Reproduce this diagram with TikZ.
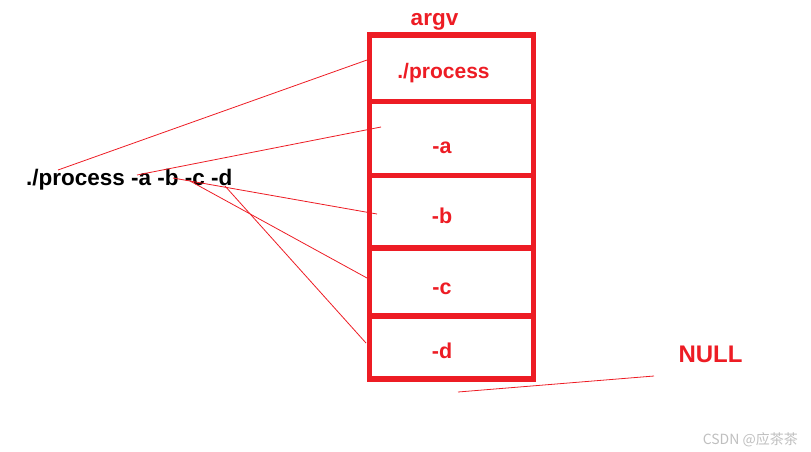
\documentclass[tikz,border=0pt]{standalone}
\usepackage{fontspec}
\setmainfont{Liberation Sans}
\newfontfamily\cjkfont{Noto Sans CJK SC}
\usetikzlibrary{positioning}
\definecolor{paintred}{RGB}{237,28,36}
\begin{document}
\begin{tikzpicture}[x=1pt, y=-1pt,
    slot/.style={draw=paintred, line width=5.5pt, minimum width=164pt, inner sep=0pt, outer sep=0pt},
    redlabel/.style={text=paintred, font=\fontsize{21.5}{25}\selectfont\bfseries, inner sep=0pt, anchor=base},
    pointer/.style={draw=paintred, line width=0.8pt}]
    \useasboundingbox (0,0) rectangle (811,451);

    % argv slots
    \node[slot, minimum height=66.5pt] (slot1) at (451.5,68.25) {};
    \node[slot, minimum height=74pt] (slot2) at (451.5,138.5) {};
    \node[slot, minimum height=72.5pt] (slot3) at (451.5,211.75) {};
    \node[slot, minimum height=68pt] (slot4) at (451.5,282) {};
    \node[slot, minimum height=63pt] (slot5) at (451.5,347.5) {};

    % Labels
    \node[redlabel, font=\fontsize{22.5}{25}\selectfont\bfseries] (argv) at (434.5,25) {argv};
    \node[redlabel, font=\fontsize{21}{25}\selectfont\bfseries] (lab1) at (443.5,78) {./process};
    \node[redlabel] (lab2) at (442,153) {-a};
    \node[redlabel] (lab3) at (442,223) {-b};
    \node[redlabel] (lab4) at (442,294) {-c};
    \node[redlabel] (lab5) at (442,358) {-d};
    \node[redlabel, font=\fontsize{24}{28}\selectfont\bfseries] (null) at (710.5,362) {NULL};
    \node[font=\fontsize{22.5}{26}\selectfont\bfseries, inner sep=0pt, anchor=base west] (cmd) at (26,185) {./process -a -b -c -d};

    % Pointer ends
    \coordinate (s0) at (58,170);
    \coordinate (s1) at (137,175);
    \coordinate (s2) at (173,178);
    \coordinate (s3) at (190,181);
    \coordinate (s4) at (225,186);
    \coordinate (e0) at (367,60);
    \coordinate (e1) at (381,127);
    \coordinate (e2) at (377,214);
    \coordinate (e3) at (367,278);
    \coordinate (e4) at (366,343);
    \coordinate (n0) at (458,392);
    \coordinate (n1) at (654,376);

    % Pointers
    \draw[pointer] (s0) -- (e0);
    \draw[pointer] (s1) -- (e1);
    \draw[pointer] (s2) -- (e2);
    \draw[pointer] (s3) -- (e3);
    \draw[pointer] (s4) -- (e4);
    \draw[pointer] (n0) -- (n1);

    % Watermark
    \node[text=black!25, font=\cjkfont\fontsize{14}{16}\selectfont, inner sep=0pt, anchor=base east] (mark) at (798,444) {CSDN @应茶茶};
\end{tikzpicture}
\end{document}
